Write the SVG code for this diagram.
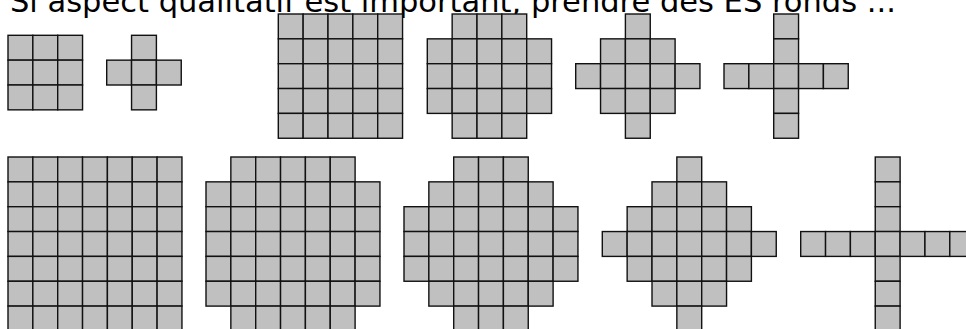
<svg xmlns="http://www.w3.org/2000/svg" xmlns:xlink="http://www.w3.org/1999/xlink" width="966" height="329" viewBox="0 0 966 329">
<style>
.c{fill:#c0c0c0;stroke:#111;stroke-width:1.4}
.t{font-family:"DejaVu Sans","Verdana",sans-serif;font-size:30.5px;fill:#000}
</style>
<defs><rect id="q" class="c" width="24.85" height="24.85"/></defs>
<rect width="966" height="329" fill="#fff"/>
<text class="t" x="10" y="12">Si aspect qualitatif est important, prendre des ES ronds ...</text>
<g id="A" transform="translate(8,35.3)">
<use href="#q" x="0" y="0"/><use href="#q" x="24.85" y="0"/><use href="#q" x="49.7" y="0"/>
<use href="#q" x="0" y="24.85"/><use href="#q" x="24.85" y="24.85"/><use href="#q" x="49.7" y="24.85"/>
<use href="#q" x="0" y="49.7"/><use href="#q" x="24.85" y="49.7"/><use href="#q" x="49.7" y="49.7"/>
</g>
<g id="B" transform="translate(106.7,35.3)">
<use href="#q" x="24.85" y="0"/>
<use href="#q" x="0" y="24.85"/><use href="#q" x="24.85" y="24.85"/><use href="#q" x="49.7" y="24.85"/>
<use href="#q" x="24.85" y="49.7"/>
</g>
<g id="C" transform="translate(278.3,14)">
<use href="#q" x="0" y="0"/><use href="#q" x="24.85" y="0"/><use href="#q" x="49.7" y="0"/><use href="#q" x="74.55" y="0"/><use href="#q" x="99.4" y="0"/>
<use href="#q" x="0" y="24.85"/><use href="#q" x="24.85" y="24.85"/><use href="#q" x="49.7" y="24.85"/><use href="#q" x="74.55" y="24.85"/><use href="#q" x="99.4" y="24.85"/>
<use href="#q" x="0" y="49.7"/><use href="#q" x="24.85" y="49.7"/><use href="#q" x="49.7" y="49.7"/><use href="#q" x="74.55" y="49.7"/><use href="#q" x="99.4" y="49.7"/>
<use href="#q" x="0" y="74.55"/><use href="#q" x="24.85" y="74.55"/><use href="#q" x="49.7" y="74.55"/><use href="#q" x="74.55" y="74.55"/><use href="#q" x="99.4" y="74.55"/>
<use href="#q" x="0" y="99.4"/><use href="#q" x="24.85" y="99.4"/><use href="#q" x="49.7" y="99.4"/><use href="#q" x="74.55" y="99.4"/><use href="#q" x="99.4" y="99.4"/>
</g>
<g id="D" transform="translate(427.3,14)">
<use href="#q" x="24.85" y="0"/><use href="#q" x="49.7" y="0"/><use href="#q" x="74.55" y="0"/>
<use href="#q" x="0" y="24.85"/><use href="#q" x="24.85" y="24.85"/><use href="#q" x="49.7" y="24.85"/><use href="#q" x="74.55" y="24.85"/><use href="#q" x="99.4" y="24.85"/>
<use href="#q" x="0" y="49.7"/><use href="#q" x="24.85" y="49.7"/><use href="#q" x="49.7" y="49.7"/><use href="#q" x="74.55" y="49.7"/><use href="#q" x="99.4" y="49.7"/>
<use href="#q" x="0" y="74.55"/><use href="#q" x="24.85" y="74.55"/><use href="#q" x="49.7" y="74.55"/><use href="#q" x="74.55" y="74.55"/><use href="#q" x="99.4" y="74.55"/>
<use href="#q" x="24.85" y="99.4"/><use href="#q" x="49.7" y="99.4"/><use href="#q" x="74.55" y="99.4"/>
</g>
<g id="E" transform="translate(575.7,14)">
<use href="#q" x="49.7" y="0"/>
<use href="#q" x="24.85" y="24.85"/><use href="#q" x="49.7" y="24.85"/><use href="#q" x="74.55" y="24.85"/>
<use href="#q" x="0" y="49.7"/><use href="#q" x="24.85" y="49.7"/><use href="#q" x="49.7" y="49.7"/><use href="#q" x="74.55" y="49.7"/><use href="#q" x="99.4" y="49.7"/>
<use href="#q" x="24.85" y="74.55"/><use href="#q" x="49.7" y="74.55"/><use href="#q" x="74.55" y="74.55"/>
<use href="#q" x="49.7" y="99.4"/>
</g>
<g id="F" transform="translate(724,14)">
<use href="#q" x="49.7" y="0"/>
<use href="#q" x="49.7" y="24.85"/>
<use href="#q" x="0" y="49.7"/><use href="#q" x="24.85" y="49.7"/><use href="#q" x="49.7" y="49.7"/><use href="#q" x="74.55" y="49.7"/><use href="#q" x="99.4" y="49.7"/>
<use href="#q" x="49.7" y="74.55"/>
<use href="#q" x="49.7" y="99.4"/>
</g>
<g id="G" transform="translate(8,157)">
<use href="#q" x="0" y="0"/><use href="#q" x="24.85" y="0"/><use href="#q" x="49.7" y="0"/><use href="#q" x="74.55" y="0"/><use href="#q" x="99.4" y="0"/><use href="#q" x="124.25" y="0"/><use href="#q" x="149.1" y="0"/>
<use href="#q" x="0" y="24.85"/><use href="#q" x="24.85" y="24.85"/><use href="#q" x="49.7" y="24.85"/><use href="#q" x="74.55" y="24.85"/><use href="#q" x="99.4" y="24.85"/><use href="#q" x="124.25" y="24.85"/><use href="#q" x="149.1" y="24.85"/>
<use href="#q" x="0" y="49.7"/><use href="#q" x="24.85" y="49.7"/><use href="#q" x="49.7" y="49.7"/><use href="#q" x="74.55" y="49.7"/><use href="#q" x="99.4" y="49.7"/><use href="#q" x="124.25" y="49.7"/><use href="#q" x="149.1" y="49.7"/>
<use href="#q" x="0" y="74.55"/><use href="#q" x="24.85" y="74.55"/><use href="#q" x="49.7" y="74.55"/><use href="#q" x="74.55" y="74.55"/><use href="#q" x="99.4" y="74.55"/><use href="#q" x="124.25" y="74.55"/><use href="#q" x="149.1" y="74.55"/>
<use href="#q" x="0" y="99.4"/><use href="#q" x="24.85" y="99.4"/><use href="#q" x="49.7" y="99.4"/><use href="#q" x="74.55" y="99.4"/><use href="#q" x="99.4" y="99.4"/><use href="#q" x="124.25" y="99.4"/><use href="#q" x="149.1" y="99.4"/>
<use href="#q" x="0" y="124.25"/><use href="#q" x="24.85" y="124.25"/><use href="#q" x="49.7" y="124.25"/><use href="#q" x="74.55" y="124.25"/><use href="#q" x="99.4" y="124.25"/><use href="#q" x="124.25" y="124.25"/><use href="#q" x="149.1" y="124.25"/>
<use href="#q" x="0" y="149.1"/><use href="#q" x="24.85" y="149.1"/><use href="#q" x="49.7" y="149.1"/><use href="#q" x="74.55" y="149.1"/><use href="#q" x="99.4" y="149.1"/><use href="#q" x="124.25" y="149.1"/><use href="#q" x="149.1" y="149.1"/>
</g>
<g id="H" transform="translate(206,157)">
<use href="#q" x="24.85" y="0"/><use href="#q" x="49.7" y="0"/><use href="#q" x="74.55" y="0"/><use href="#q" x="99.4" y="0"/><use href="#q" x="124.25" y="0"/>
<use href="#q" x="0" y="24.85"/><use href="#q" x="24.85" y="24.85"/><use href="#q" x="49.7" y="24.85"/><use href="#q" x="74.55" y="24.85"/><use href="#q" x="99.4" y="24.85"/><use href="#q" x="124.25" y="24.85"/><use href="#q" x="149.1" y="24.85"/>
<use href="#q" x="0" y="49.7"/><use href="#q" x="24.85" y="49.7"/><use href="#q" x="49.7" y="49.7"/><use href="#q" x="74.55" y="49.7"/><use href="#q" x="99.4" y="49.7"/><use href="#q" x="124.25" y="49.7"/><use href="#q" x="149.1" y="49.7"/>
<use href="#q" x="0" y="74.55"/><use href="#q" x="24.85" y="74.55"/><use href="#q" x="49.7" y="74.55"/><use href="#q" x="74.55" y="74.55"/><use href="#q" x="99.4" y="74.55"/><use href="#q" x="124.25" y="74.55"/><use href="#q" x="149.1" y="74.55"/>
<use href="#q" x="0" y="99.4"/><use href="#q" x="24.85" y="99.4"/><use href="#q" x="49.7" y="99.4"/><use href="#q" x="74.55" y="99.4"/><use href="#q" x="99.4" y="99.4"/><use href="#q" x="124.25" y="99.4"/><use href="#q" x="149.1" y="99.4"/>
<use href="#q" x="0" y="124.25"/><use href="#q" x="24.85" y="124.25"/><use href="#q" x="49.7" y="124.25"/><use href="#q" x="74.55" y="124.25"/><use href="#q" x="99.4" y="124.25"/><use href="#q" x="124.25" y="124.25"/><use href="#q" x="149.1" y="124.25"/>
<use href="#q" x="24.85" y="149.1"/><use href="#q" x="49.7" y="149.1"/><use href="#q" x="74.55" y="149.1"/><use href="#q" x="99.4" y="149.1"/><use href="#q" x="124.25" y="149.1"/>
</g>
<g id="I" transform="translate(404,157)">
<use href="#q" x="49.7" y="0"/><use href="#q" x="74.55" y="0"/><use href="#q" x="99.4" y="0"/>
<use href="#q" x="24.85" y="24.85"/><use href="#q" x="49.7" y="24.85"/><use href="#q" x="74.55" y="24.85"/><use href="#q" x="99.4" y="24.85"/><use href="#q" x="124.25" y="24.85"/>
<use href="#q" x="0" y="49.7"/><use href="#q" x="24.85" y="49.7"/><use href="#q" x="49.7" y="49.7"/><use href="#q" x="74.55" y="49.7"/><use href="#q" x="99.4" y="49.7"/><use href="#q" x="124.25" y="49.7"/><use href="#q" x="149.1" y="49.7"/>
<use href="#q" x="0" y="74.55"/><use href="#q" x="24.85" y="74.55"/><use href="#q" x="49.7" y="74.55"/><use href="#q" x="74.55" y="74.55"/><use href="#q" x="99.4" y="74.55"/><use href="#q" x="124.25" y="74.55"/><use href="#q" x="149.1" y="74.55"/>
<use href="#q" x="0" y="99.4"/><use href="#q" x="24.85" y="99.4"/><use href="#q" x="49.7" y="99.4"/><use href="#q" x="74.55" y="99.4"/><use href="#q" x="99.4" y="99.4"/><use href="#q" x="124.25" y="99.4"/><use href="#q" x="149.1" y="99.4"/>
<use href="#q" x="24.85" y="124.25"/><use href="#q" x="49.7" y="124.25"/><use href="#q" x="74.55" y="124.25"/><use href="#q" x="99.4" y="124.25"/><use href="#q" x="124.25" y="124.25"/>
<use href="#q" x="49.7" y="149.1"/><use href="#q" x="74.55" y="149.1"/><use href="#q" x="99.4" y="149.1"/>
</g>
<g id="J" transform="translate(602.3,157)">
<use href="#q" x="74.55" y="0"/>
<use href="#q" x="49.7" y="24.85"/><use href="#q" x="74.55" y="24.85"/><use href="#q" x="99.4" y="24.85"/>
<use href="#q" x="24.85" y="49.7"/><use href="#q" x="49.7" y="49.7"/><use href="#q" x="74.55" y="49.7"/><use href="#q" x="99.4" y="49.7"/><use href="#q" x="124.25" y="49.7"/>
<use href="#q" x="0" y="74.55"/><use href="#q" x="24.85" y="74.55"/><use href="#q" x="49.7" y="74.55"/><use href="#q" x="74.55" y="74.55"/><use href="#q" x="99.4" y="74.55"/><use href="#q" x="124.25" y="74.55"/><use href="#q" x="149.1" y="74.55"/>
<use href="#q" x="24.85" y="99.4"/><use href="#q" x="49.7" y="99.4"/><use href="#q" x="74.55" y="99.4"/><use href="#q" x="99.4" y="99.4"/><use href="#q" x="124.25" y="99.4"/>
<use href="#q" x="49.7" y="124.25"/><use href="#q" x="74.55" y="124.25"/><use href="#q" x="99.4" y="124.25"/>
<use href="#q" x="74.55" y="149.1"/>
</g>
<g id="K" transform="translate(800.7,157)">
<use href="#q" x="74.55" y="0"/>
<use href="#q" x="74.55" y="24.85"/>
<use href="#q" x="74.55" y="49.7"/>
<use href="#q" x="0" y="74.55"/><use href="#q" x="24.85" y="74.55"/><use href="#q" x="49.7" y="74.55"/><use href="#q" x="74.55" y="74.55"/><use href="#q" x="99.4" y="74.55"/><use href="#q" x="124.25" y="74.55"/><use href="#q" x="149.1" y="74.55"/>
<use href="#q" x="74.55" y="99.4"/>
<use href="#q" x="74.55" y="124.25"/>
<use href="#q" x="74.55" y="149.1"/>
</g>
</svg>
